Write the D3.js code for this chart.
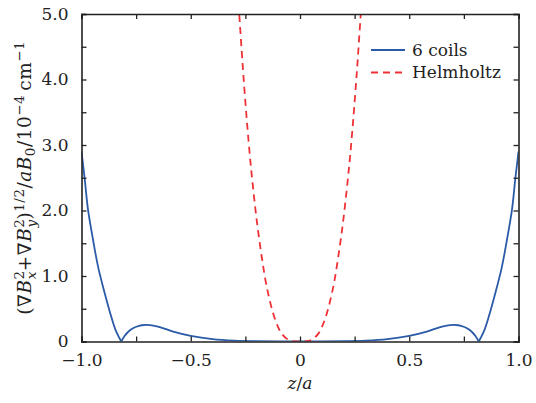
<!DOCTYPE html>
<html>
<head>
<meta charset="utf-8">
<script src="https://cdn.jsdelivr.net/npm/d3@7"></script>
<style>
  body { margin: 0; background: #fff; }
  text { font-family: "DejaVu Serif", serif; fill: #222; }
</style>
</head>
<body>
<div id="chart"></div>
<script>
// 6 coils curve
const coilsZ = [-1.0, -0.985, -0.97, -0.947, -0.924, -0.894, -0.864, -0.841, -0.818,
  -0.803, -0.787, -0.77, -0.749, -0.725, -0.70, -0.65, -0.58, -0.5, -0.4, -0.3, -0.2, -0.1, 0,
  0.1, 0.2, 0.3, 0.4, 0.5, 0.58, 0.65, 0.70, 0.725, 0.749, 0.77, 0.787, 0.803,
  0.818, 0.841, 0.864, 0.894, 0.924, 0.947, 0.97, 0.985, 1.0];
const coilsV = [2.90, 2.47, 2.01, 1.55, 1.14, 0.74, 0.38, 0.15, 0.0,
  0.085, 0.145, 0.19, 0.225, 0.248, 0.255, 0.228, 0.15, 0.085, 0.035, 0.012, 0.004, 0.001, 0,
  0.001, 0.004, 0.012, 0.035, 0.085, 0.15, 0.228, 0.255, 0.248, 0.225, 0.19, 0.145, 0.085,
  0.0, 0.15, 0.38, 0.74, 1.14, 1.55, 2.01, 2.47, 2.90];
// cusps where the curve touches zero
const coilsCusps = [-0.818, 0.818];

// Helmholtz curve
const helmZ = [-0.285, -0.264, -0.253, -0.241, -0.229, -0.218, -0.198, -0.175, -0.152,
  -0.122, -0.100, -0.084, -0.06, -0.038, 0, 0.038, 0.06, 0.084, 0.100, 0.122,
  0.152, 0.175, 0.198, 0.218, 0.229, 0.241, 0.253, 0.264, 0.285];
const helmV = [5.35, 4.30, 3.79, 3.28, 2.82, 2.45, 1.85, 1.29, 0.83,
  0.42, 0.22, 0.12, 0.04, 0.008, 0, 0.008, 0.04, 0.12, 0.22, 0.42,
  0.83, 1.29, 1.85, 2.45, 2.82, 3.28, 3.79, 4.30, 5.35];

const xTicks = [-1, -0.75, -0.5, -0.25, 0, 0.25, 0.5, 0.75, 1];
const xLabels = { "-1": "\u22121.0", "-0.5": "\u22120.5", "0": "0", "0.5": "0.5", "1": "1.0" };
const yTicks = [0, 0.5, 1, 1.5, 2, 2.5, 3, 3.5, 4, 4.5, 5];
const yLabels = { "0": "0", "1": "1.0", "2": "2.0", "3": "3.0", "4": "4.0", "5": "5.0" };

const W = 536, H = 403;
const m = { left: 81.5, right: 17.5, top: 14, bottom: 61.5 };

const svg = d3.select("#chart").append("svg").attr("width", W).attr("height", H);

const x = d3.scaleLinear().domain([-1, 1]).range([m.left, W - m.right]);
const y = d3.scaleLinear().domain([0, 5]).range([H - m.bottom, m.top]);

svg.append("clipPath").attr("id", "clip").append("rect")
  .attr("x", x(-1)).attr("y", y(5)).attr("width", x(1) - x(-1)).attr("height", y(0) - y(5));

const plot = svg.append("g").attr("clip-path", "url(#clip)");

const line = d3.line().x(d => x(d[0])).y(d => y(Math.max(0, d[1])))
  .curve(d3.curveCatmullRom.alpha(0.5));

// split the 6 coils series at the cusps so they stay sharp
const coilsPts = coilsZ.map((z, i) => [z, coilsV[i]]);
const pieces = [];
let cur = [];
coilsPts.forEach(p => {
  cur.push(p);
  if (coilsCusps.includes(p[0])) { pieces.push(cur); cur = [p]; }
});
pieces.push(cur);

pieces.forEach(seg => {
  plot.append("path").datum(seg)
    .attr("d", line)
    .attr("fill", "none")
    .attr("stroke", "#2b5ba8")
    .attr("stroke-width", 1.8);
});

plot.append("path").datum(helmZ.map((z, i) => [z, helmV[i]]))
  .attr("d", line)
  .attr("fill", "none")
  .attr("stroke", "#ee3136")
  .attr("stroke-width", 1.8)
  .attr("stroke-dasharray", "7,5");

// axes with inward ticks on all sides
svg.append("g").attr("transform", `translate(0,${y(0)})`)
  .call(d3.axisBottom(x).tickValues(xTicks).tickSize(-5).tickPadding(12)
    .tickFormat(d => xLabels[String(d)] || ""));
svg.append("g").attr("transform", `translate(0,${y(5)})`)
  .call(d3.axisTop(x).tickValues(xTicks).tickSize(-5).tickFormat(""));
svg.append("g").attr("transform", `translate(${x(-1)},0)`)
  .call(d3.axisLeft(y).tickValues(yTicks).tickSize(-5).tickPadding(13)
    .tickFormat(d => yLabels[String(d)] || ""));
svg.append("g").attr("transform", `translate(${x(1)},0)`)
  .call(d3.axisRight(y).tickValues(yTicks).tickSize(-5).tickFormat(""));

svg.selectAll(".domain").attr("stroke", "#222").attr("stroke-width", 1.6);
svg.selectAll(".tick line").attr("stroke", "#222").attr("stroke-width", 1.3);
svg.selectAll(".tick text").attr("font-family", "DejaVu Serif").attr("font-size", 17).attr("fill", "#222");

// x label
const xl = svg.append("text").attr("x", x(0)).attr("y", 389).attr("text-anchor", "middle").attr("font-size", 17);
xl.append("tspan").attr("font-style", "italic").text("z");
xl.append("tspan").text("/");
xl.append("tspan").attr("font-style", "italic").text("a");

// y label
const yl = svg.append("text")
  .attr("transform", `translate(31,${(y(0) + y(5)) / 2}) rotate(-90)`)
  .attr("text-anchor", "middle").attr("font-size", 18.5).attr("letter-spacing", 0.5);
const parts = [
  ["(\u2207", {}], ["B", { it: 1 }], ["2", { s: 1, dy: -7.5 }], ["x", { s: 1, it: 1, dx: -9, dy: 12 }],
  ["+\u2207", { dy: -4.5 }], ["B", { it: 1 }], ["2", { s: 1, dy: -7.5 }], ["y", { s: 1, it: 1, dx: -9, dy: 12 }],
  [")", { dy: -4.5 }], ["1/2", { s: 1, dy: -7.5 }], ["/", { dy: 7.5 }], ["aB", { it: 1 }],
  ["0", { s: 1, dy: 4 }], ["/10", { dy: -4 }], ["\u22124", { s: 1, dy: -7.5 }],
  ["\u2009cm", { dy: 7.5 }], ["\u22121", { s: 1, dy: -7.5 }]
];
parts.forEach(([t, o]) => {
  const ts = yl.append("tspan").text(t);
  if (o.it) ts.attr("font-style", "italic");
  if (o.s) ts.attr("font-size", 13.5);
  if (o.dx) ts.attr("dx", o.dx);
  if (o.dy) ts.attr("dy", o.dy);
});

// legend
const legend = svg.append("g");
const legendItems = [
  { name: "6 coils", color: "#2b5ba8", dash: null, y: 50 },
  { name: "Helmholtz", color: "#ee3136", dash: "7,5", y: 72.5 }
];
legendItems.forEach(d => {
  legend.append("line").attr("x1", 371).attr("x2", 405).attr("y1", d.y).attr("y2", d.y)
    .attr("stroke", d.color).attr("stroke-width", 1.8).attr("stroke-dasharray", d.dash);
  legend.append("text").attr("x", 412).attr("y", d.y + 5.5).attr("font-size", 17).text(d.name);
});
</script>
</body>
</html>
